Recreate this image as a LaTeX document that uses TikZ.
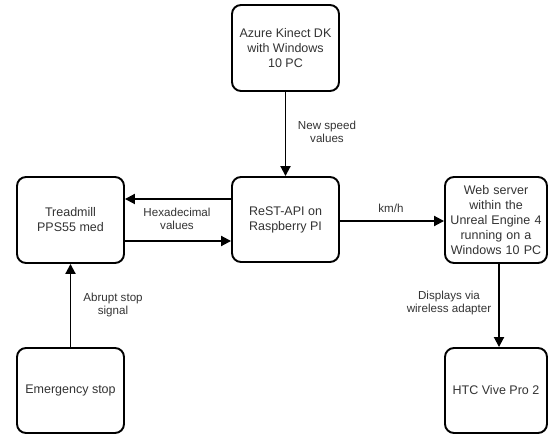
\documentclass[tikz,border=0pt]{standalone}
\usepackage{fontspec}
\setmainfont{Liberation Sans}
\usetikzlibrary{arrows.meta,calc}
\begin{document}
\begin{tikzpicture}[x=1pt,y=-1pt,
  box/.style={draw=black,line width=1.9pt,rounded corners=9pt,fill=white,
    align=center,inner sep=2pt,text=black!80,
    font=\fontsize{12.5}{15}\selectfont},
  conn/.style={line width=1.9pt,-{Triangle[length=10pt,width=10pt]}},
  lbl/.style={align=center,text=black!80,font=\fontsize{11.6}{13}\selectfont,inner sep=0pt}]
\useasboundingbox (0,0) rectangle (548,435);
\node[box,minimum width=107pt,minimum height=86pt] (kinect) at (285.5,48) {Azure Kinect DK\\with Windows\\10 PC};
\node[box,minimum width=107pt,minimum height=85pt] (rest) at (285.5,219.5) {ReST-API on\\Raspberry PI};
\node[box,minimum width=107pt,minimum height=86pt] (tread) at (70.5,220) {Treadmill\\PPS55 med};
\node[box,minimum width=102pt,minimum height=86pt,text width=98pt] (web) at (496,220) {Web server\\within the\\Unreal Engine 4\\running on a\\Windows 10 PC};
\node[box,minimum width=107pt,minimum height=85pt] (emerg) at (70.5,390.5) {Emergency stop};
\node[box,minimum width=102pt,minimum height=85pt] (htc) at (496,390.5) {HTC Vive Pro 2};

\draw[conn] (kinect.south) -- (rest.north);
\draw[conn] (rest.west |- 0,199) -- (tread.east |- 0,199);
\draw[conn] (tread.east |- 0,241) -- (rest.west |- 0,241);
\draw[conn] (rest.east |- 0,221) -- (web.west |- 0,221);
\draw[conn] (emerg.north) -- (tread.south);
\draw[conn] ($(web.south)+(3,0)$) -- ($(htc.north)+(3,0)$);

\node[lbl] (l1) at (327,132) {New speed\\values};
\node[lbl] (l2) at (177,219) {Hexadecimal\\values};
\node[lbl] (l3) at (391,208) {km/h};
\node[lbl] (l4) at (113,305) {Abrupt stop\\signal};
\node[lbl] (l5) at (449,303) {Displays via\\wireless adapter};
\end{tikzpicture}
\end{document}
